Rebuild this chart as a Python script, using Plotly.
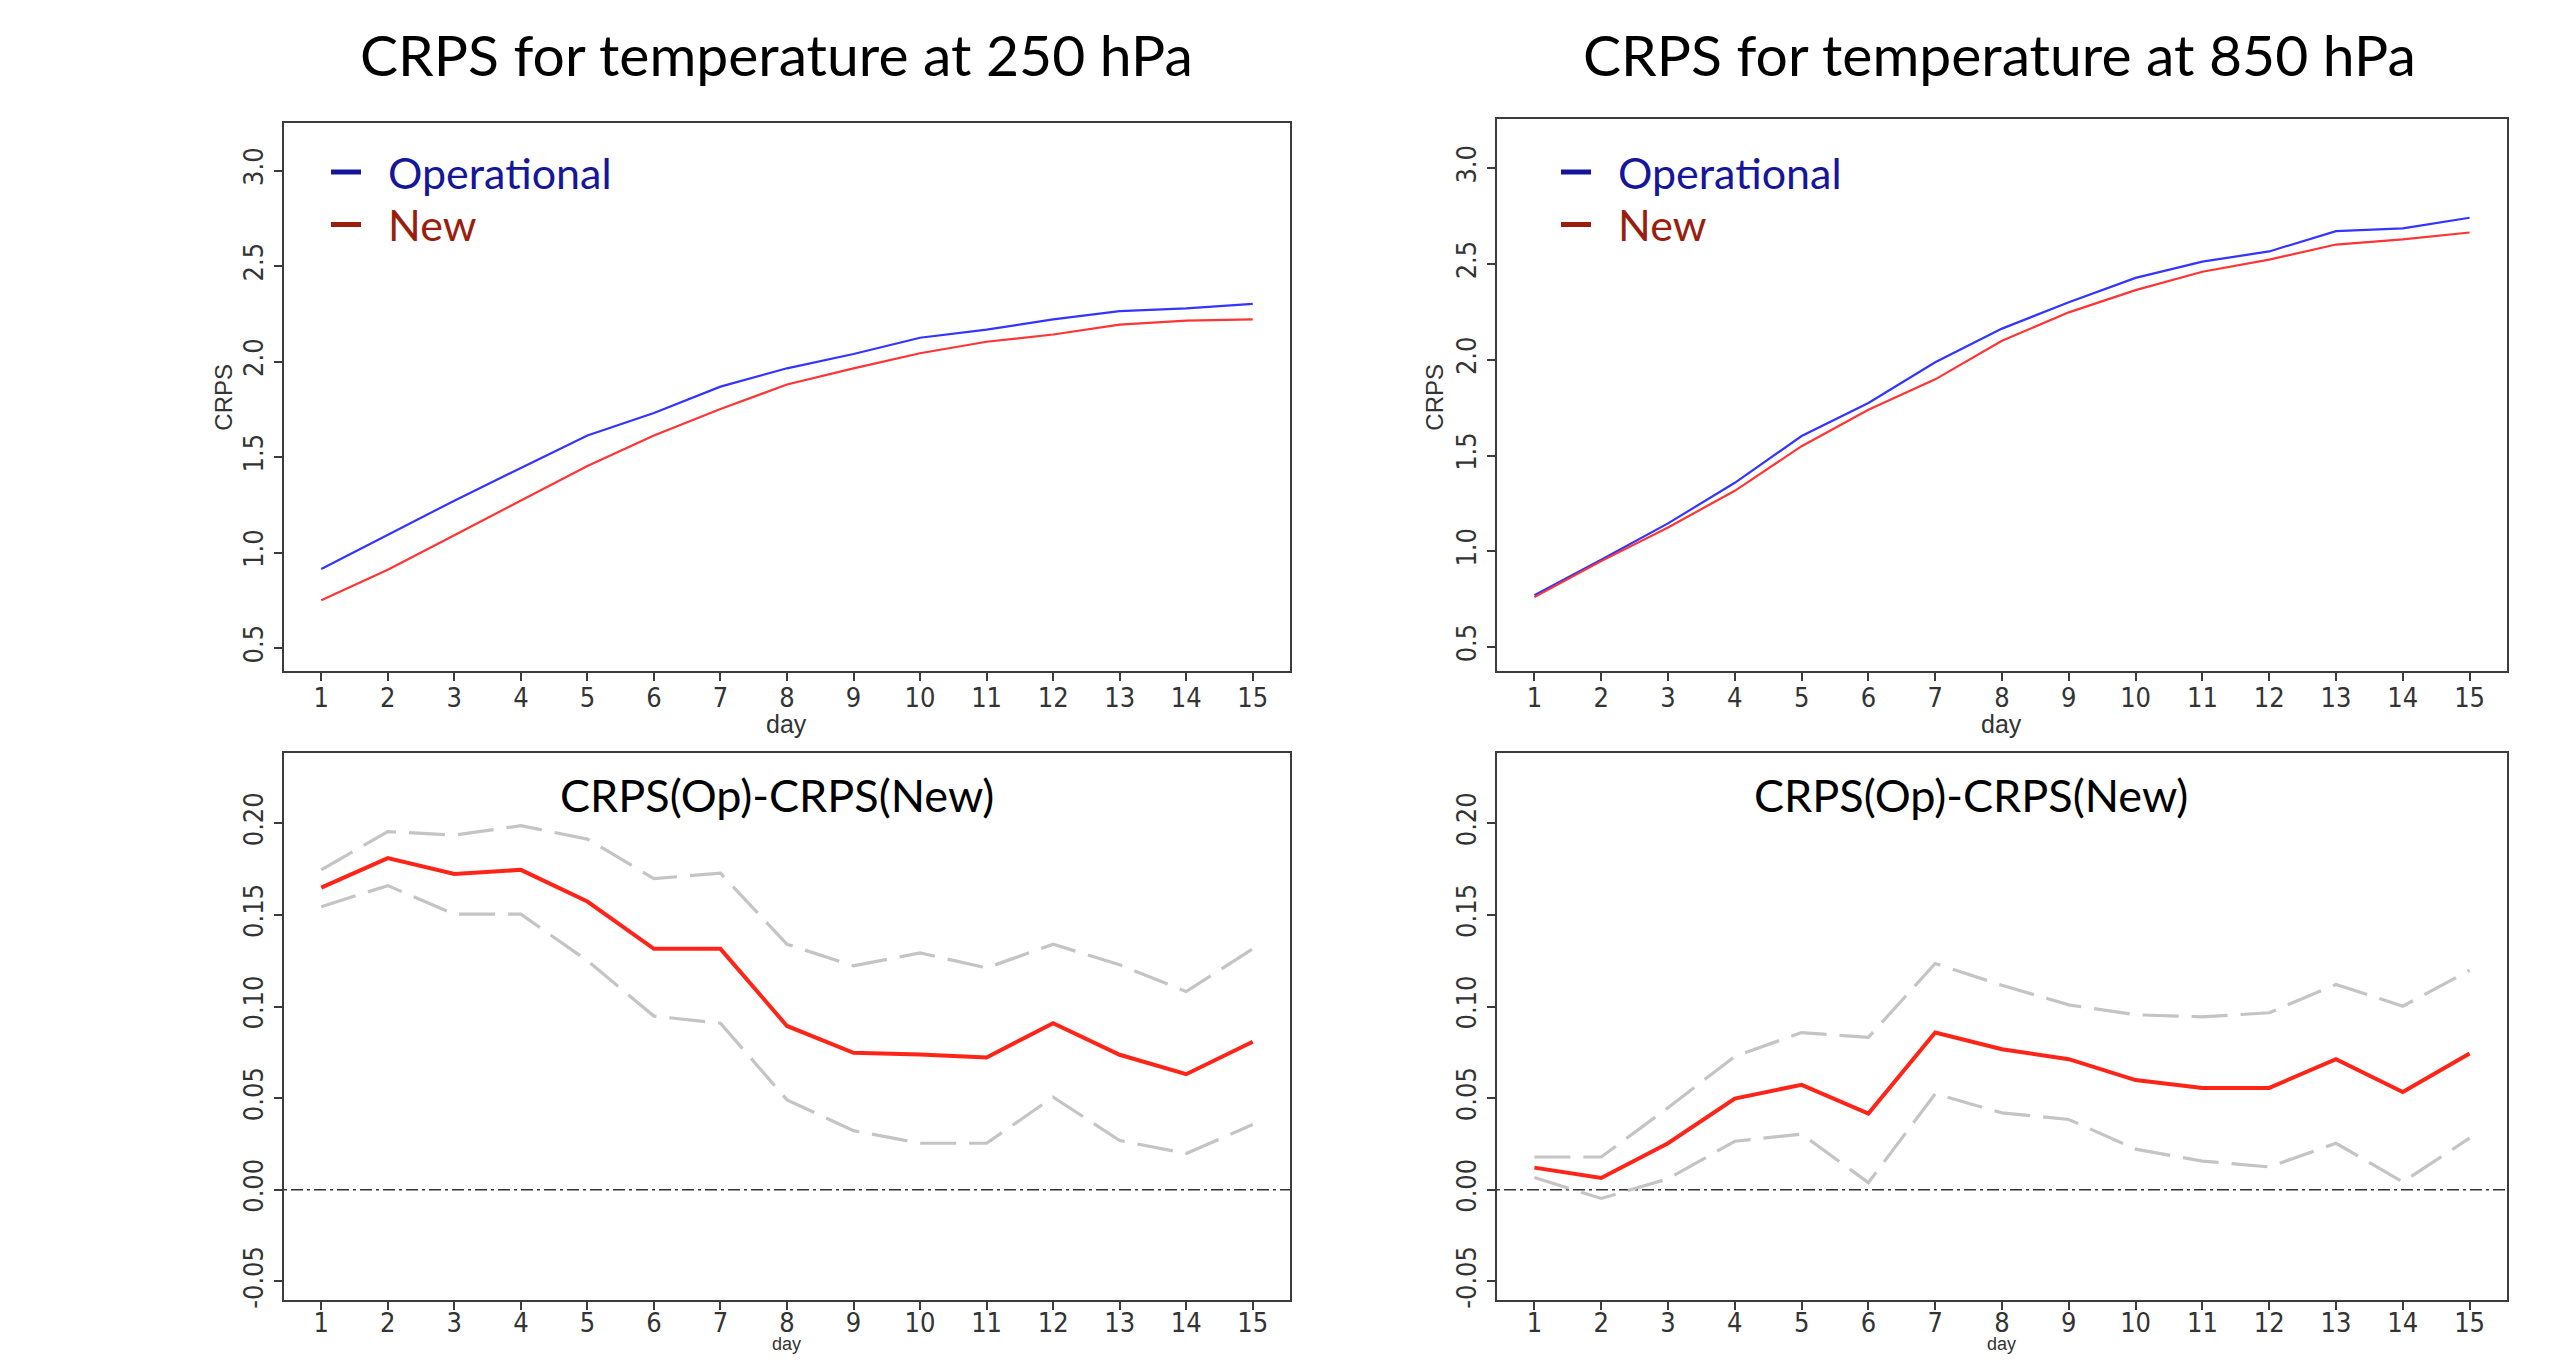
import plotly.graph_objects as go

days = list(range(1, 16))

# Top-left: CRPS, temperature 250 hPa
op_250 = [0.914, 1.091, 1.272, 1.443, 1.613, 1.731, 1.869, 1.965, 2.040, 2.125, 2.168, 2.221, 2.264, 2.279, 2.302]
new_250 = [0.750, 0.910, 1.091, 1.272, 1.454, 1.613, 1.752, 1.880, 1.965, 2.044, 2.104, 2.142, 2.194, 2.215, 2.221]

# Top-right: CRPS, temperature 850 hPa
op_850 = [0.771, 0.956, 1.146, 1.358, 1.602, 1.775, 1.987, 2.163, 2.301, 2.428, 2.513, 2.566, 2.672, 2.686, 2.742]
new_850 = [0.761, 0.949, 1.125, 1.316, 1.549, 1.739, 1.898, 2.100, 2.248, 2.364, 2.460, 2.523, 2.602, 2.629, 2.665]

# Bottom-left: difference 250 hPa with bounds
diff_250 = [0.1649, 0.181, 0.1724, 0.1746, 0.1573, 0.1315, 0.1315, 0.0894, 0.0748, 0.0739, 0.0722, 0.0909, 0.0737, 0.0631, 0.0808]
upper_250 = [0.1746, 0.1955, 0.1935, 0.1987, 0.1914, 0.1698, 0.1728, 0.134, 0.1222, 0.1293, 0.1211, 0.134, 0.1228, 0.1082, 0.1315]
lower_250 = [0.1545, 0.166, 0.1504, 0.1504, 0.125, 0.0948, 0.0909, 0.0491, 0.0323, 0.0254, 0.0254, 0.0506, 0.0269, 0.0198, 0.0356]

# Bottom-right: difference 850 hPa with bounds
diff_850 = [0.0121, 0.0065, 0.0254, 0.0498, 0.0573, 0.0416, 0.0858, 0.0767, 0.0713, 0.0599, 0.0556, 0.0556, 0.0713, 0.0534, 0.0744]
upper_850 = [0.0179, 0.0179, 0.0448, 0.0728, 0.0858, 0.0832, 0.1235, 0.1116, 0.1009, 0.0955, 0.0944, 0.0966, 0.1121, 0.1002, 0.1198]
lower_850 = [0.0067, -0.0047, 0.006, 0.0265, 0.0304, 0.0039, 0.0524, 0.042, 0.0384, 0.0222, 0.0157, 0.0125, 0.0254, 0.0043, 0.0282]

titles = ["CRPS for temperature at 250 hPa", "CRPS for temperature at 850 hPa"]
diff_title = "CRPS(Op)-CRPS(New)"
series_names = ["Operational", "New"]
top_ticks = [0.5, 1.0, 1.5, 2.0, 2.5, 3.0]
top_ticktext = ["0.5", "1.0", "1.5", "2.0", "2.5", "3.0"]
bottom_ticks = [-0.05, 0.0, 0.05, 0.10, 0.15, 0.20]
bottom_ticktext = ["-0.05", "0.00", "0.05", "0.10", "0.15", "0.20"]

W, H = 2554, 1363
TITLE_FONT = "Lato, Open Sans, sans-serif"
TICK_FONT = "Liberation Sans Narrow, DejaVu Sans Condensed, Arial Narrow, sans-serif"
BLUE = "#3434ff"
RED = "#ff3434"
RED_THICK = "#ff2418"
GRAY = "#c4c4c4"
LEG_BLUE = "#16169a"
LEG_RED = "#9a1e0e"
NB = "\u00a0\u00a0"

fig = go.Figure()

def px_x(p):
    return p / W

def px_y(p):
    return 1 - p / H

xl = [px_x(284), px_x(1290)]
xr = [px_x(1497), px_x(2507)]
yb = [px_y(1308), px_y(757)]

legend_ids = [("legend", "legend2"), ("legend3", "legend4")]
for (op, new, ax), (lg_op, lg_new) in zip([(op_250, new_250, ""), (op_850, new_850, "2")], legend_ids):
    xa = "x" + ax
    ya = "y" + ax
    fig.add_trace(go.Scatter(x=days, y=op, mode="lines", line=dict(color=BLUE, width=2.2),
                             xaxis=xa, yaxis=ya, showlegend=False))
    fig.add_trace(go.Scatter(x=days, y=new, mode="lines", line=dict(color=RED, width=2.2),
                             xaxis=xa, yaxis=ya, showlegend=False))
    fig.add_trace(go.Scatter(x=[None], y=[None], mode="lines", line=dict(color=LEG_BLUE, width=5),
                             name=f"<span style='color:{LEG_BLUE}'>{NB}{series_names[0]}</span>",
                             xaxis=xa, yaxis=ya, legend=lg_op, showlegend=True))
    fig.add_trace(go.Scatter(x=[None], y=[None], mode="lines", line=dict(color=LEG_RED, width=5),
                             name=f"<span style='color:{LEG_RED}'>{NB}{series_names[1]}</span>",
                             xaxis=xa, yaxis=ya, legend=lg_new, showlegend=True))

for diff, up, lo, ax in [(diff_250, upper_250, lower_250, "3"), (diff_850, upper_850, lower_850, "4")]:
    xa = "x" + ax
    ya = "y" + ax
    for band in (up, lo):
        fig.add_trace(go.Scatter(x=days, y=band, mode="lines",
                                 line=dict(color=GRAY, width=3.2, dash="36px,13px"),
                                 xaxis=xa, yaxis=ya, showlegend=False))
    fig.add_trace(go.Scatter(x=days, y=diff, mode="lines", line=dict(color=RED_THICK, width=4),
                             xaxis=xa, yaxis=ya, showlegend=False))
    fig.add_shape(type="line", xref=f"{xa} domain", yref=ya, x0=0, x1=1, y0=0, y1=0,
                  line=dict(color="#333333", width=1.6, dash="3px,4px,12px,4px"), layer="below")

axis_common = dict(
    showline=True, mirror=True, linecolor="#3c3c3c", linewidth=2,
    ticks="outside", ticklen=8, tickwidth=1.6, tickcolor="#3c3c3c",
    showgrid=False, zeroline=False,
    tickfont=dict(family=TICK_FONT, size=27, color="#333333"),
)

xcommon = dict(axis_common, range=[0.44, 15.56], tickmode="array", tickvals=days,
               ticktext=[str(d) for d in days], ticklabelstandoff=-6)
xbottom = dict(xcommon, ticklabelstandoff=-11)
ycommon = dict(axis_common, tickmode="array", tickangle=-90)

def leg(xp, yp):
    return dict(x=px_x(xp), y=px_y(yp), xanchor="left", yanchor="middle",
                font=dict(family=TITLE_FONT, size=43), bgcolor="rgba(0,0,0,0)",
                itemwidth=30, tracegroupgap=0)

fig.update_layout(
    width=W, height=H,
    margin=dict(l=0, r=0, t=0, b=0),
    paper_bgcolor="white", plot_bgcolor="white",
    xaxis=dict(xcommon, domain=xl, anchor="y"),
    yaxis=dict(ycommon, domain=[px_y(675), px_y(124)], anchor="x", range=[0.38, 3.248],
               tickvals=top_ticks, ticktext=top_ticktext),
    xaxis2=dict(xcommon, domain=xr, anchor="y2"),
    yaxis2=dict(ycommon, domain=[px_y(675), px_y(120)], anchor="x2", range=[0.375, 3.256],
                tickvals=top_ticks, ticktext=top_ticktext),
    xaxis3=dict(xbottom, domain=xl, anchor="y3"),
    yaxis3=dict(ycommon, domain=yb, anchor="x3", range=[-0.0603, 0.2386],
                tickvals=bottom_ticks, ticktext=bottom_ticktext),
    xaxis4=dict(xbottom, domain=xr, anchor="y4"),
    yaxis4=dict(ycommon, domain=yb, anchor="x4", range=[-0.0603, 0.2386],
                tickvals=bottom_ticks, ticktext=bottom_ticktext),
    legend=leg(326, 173),
    legend2=leg(326, 226),
    legend3=leg(1556, 173),
    legend4=leg(1556, 226),
    showlegend=True,
)

annotations = []
for t, cx in zip(titles, [776, 1999]):
    annotations.append(dict(text=t, x=px_x(cx), y=px_y(54), xref="paper", yref="paper",
                            xanchor="center", yanchor="middle", showarrow=False,
                            font=dict(family=TITLE_FONT, size=57, color="black")))
for cx in [777, 1971]:
    annotations.append(dict(text=diff_title, x=px_x(cx), y=px_y(800), xref="paper", yref="paper",
                            xanchor="center", yanchor="middle", showarrow=False,
                            font=dict(family=TITLE_FONT, size=45, color="black")))
for cx in [786, 2001]:
    annotations.append(dict(text="day", x=px_x(cx), y=px_y(728), xref="paper", yref="paper",
                            xanchor="center", yanchor="middle", showarrow=False,
                            font=dict(family="Liberation Sans, Arial, sans-serif", size=25, color="#333333")))
    annotations.append(dict(text="day", x=px_x(cx), y=0, xref="paper", yref="paper",
                            xanchor="center", yanchor="bottom", showarrow=False, borderpad=0,
                            font=dict(family="Liberation Sans, Arial, sans-serif", size=18, color="#333333")))
for cx in [224, 1435]:
    annotations.append(dict(text="CRPS", x=px_x(cx), y=px_y(400), xref="paper", yref="paper",
                            xanchor="center", yanchor="middle", showarrow=False, textangle=-90,
                            font=dict(family="Liberation Sans, Arial, sans-serif", size=24, color="#333333")))
fig.update_layout(annotations=annotations)

fig.write_html("out.html")
